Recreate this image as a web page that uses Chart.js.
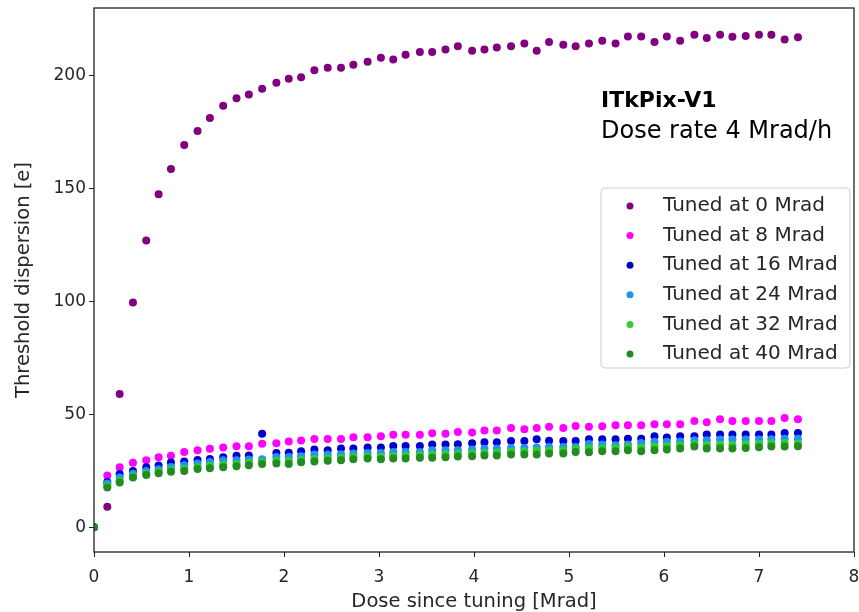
<!DOCTYPE html>
<html>
<head>
<meta charset="utf-8">
<script src="https://cdn.jsdelivr.net/npm/chart.js@4.4.1/dist/chart.umd.min.js"></script>
<style>
  html, body { margin: 0; padding: 0; background: #fff; }
  #wrap { width: 859px; height: 612px; }
</style>
</head>
<body>
<div id="wrap"><canvas id="chart" width="859" height="612"></canvas></div>
<script>
// dose since tuning [Mrad], shared by all series
const dose = [0, 0.14, 0.27, 0.41, 0.55, 0.68, 0.81, 0.95, 1.09, 1.22, 1.36, 1.50, 1.63, 1.77, 1.92,
  2.05, 2.18, 2.32, 2.46, 2.60, 2.73, 2.88, 3.02, 3.15, 3.28, 3.43, 3.56, 3.70, 3.83, 3.98, 4.11,
  4.24, 4.39, 4.53, 4.66, 4.79, 4.94, 5.07, 5.21, 5.35, 5.49, 5.62, 5.76, 5.90, 6.03, 6.17, 6.32,
  6.45, 6.59, 6.72, 6.86, 7.00, 7.13, 7.27, 7.41];

const tuned0 = [0, 9, 59, 99.5, 127, 147.5, 158.7, 169.3, 175.5, 181.3, 186.7, 190, 191.7, 194.2, 196.9,
  198.7, 199.3, 202.4, 203.5, 203.5, 204.9, 206.2, 208, 207.2, 209.3, 210.5, 210.5, 211.6, 213.1, 211.1, 211.6,
  212.5, 213.1, 214.3, 211.1, 214.9, 213.7, 213.1, 214.3, 215.5, 214.3, 217.4, 217.4, 214.9, 217.4, 215.5, 218.1,
  216.7, 218.1, 217.3, 217.6, 218.1, 218.1, 216, 217];
const tuned8 = [0, 22.9, 26.5, 28.5, 29.6, 31, 31.6, 33.3, 34.1, 34.7, 35.3, 35.8, 35.8, 37, 37.2,
  37.9, 38.4, 39.1, 39.1, 39.1, 39.8, 39.8, 40.3, 40.9, 40.9, 40.9, 41.6, 41.4, 42.2, 41.9, 42.8,
  42.8, 43.9, 43.4, 43.9, 44.5, 43.9, 44.8, 44.5, 44.7, 45.1, 45.1, 45.1, 45.6, 45.6, 45.6, 47,
  46.5, 47.8, 47, 47, 47, 47, 48.4, 47.8];
const tuned16 = [0, 20, 23.5, 24.9, 26.5, 27.3, 28.6, 29.1, 29.8, 30.2, 31, 31.6, 31.7, 41.4, 32.9,
  33, 33.6, 34.4, 34.1, 34.8, 34.8, 35.3, 35.3, 36, 36, 36, 36.6, 36.6, 36.7, 37.2, 37.6,
  37.6, 38.2, 38.2, 38.9, 38.3, 38.2, 38.2, 38.9, 38.9, 38.9, 39.2, 39.2, 40.3, 39.7, 40.3, 40.3,
  41, 41, 41, 41, 41, 41, 41.7, 41.7];
const tuned24 = [0, 19.3, 22, 23.7, 24.9, 25.7, 26.7, 27.4, 28.2, 28.9, 29.6, 29.6, 30, 30.1, 31.1,
  31.1, 31.4, 32.2, 32.2, 32.3, 32.6, 32.9, 32.9, 33.3, 33.3, 33.3, 34.1, 34.1, 34.1, 34.4, 34.7,
  34.7, 35.1, 35.1, 35.3, 35.5, 35.5, 35.5, 36.8, 36.6, 36.3, 36.6, 37.3, 37.8, 37.8, 38, 38.5,
  38.5, 38.8, 38.8, 38.8, 38.8, 38.9, 39.2, 39.2];
const tuned32 = [0, 18.3, 20.6, 22.6, 23.8, 24.6, 25.4, 25.9, 26.7, 27.2, 27.6, 28, 28.5, 29, 29.4,
  29.3, 29.9, 30.3, 30.6, 30.8, 31.2, 31.4, 31.3, 31.6, 31.7, 32, 32.2, 32.3, 32.5, 32.8, 33,
  33.1, 33.5, 33.6, 34, 34, 34.1, 34.6, 35, 35, 35.1, 35.6, 35.3, 35.7, 36, 36.3, 36.9,
  36.4, 36.5, 36.5, 36.8, 37, 37.2, 37.3, 37];
const tuned40 = [0, 17.6, 19.8, 22, 23.1, 23.9, 24.6, 24.9, 25.8, 26.1, 26.5, 27, 27.4, 28, 28.2,
  28, 28.8, 29.1, 29.4, 29.6, 30.1, 30.4, 30.1, 30.4, 30.4, 30.7, 30.8, 31, 31.3, 31.4, 31.7,
  31.7, 32.2, 32.2, 32.2, 32.6, 32.6, 33.3, 33.2, 33.6, 33.6, 34.1, 33.6, 34.1, 34.4, 34.8, 35.7,
  34.8, 34.8, 34.8, 35.1, 35.4, 35.7, 35.7, 35.8];

const seriesValues = [tuned0, tuned8, tuned16, tuned24, tuned32, tuned40];
const seriesLabels = ['Tuned at 0 Mrad', 'Tuned at 8 Mrad', 'Tuned at 16 Mrad',
  'Tuned at 24 Mrad', 'Tuned at 32 Mrad', 'Tuned at 40 Mrad'];
const seriesColors = ['#800080', '#ff00ff', '#0000cd', '#1e90ff', '#32cd32', '#228b22'];

const xTicks = [0, 1, 2, 3, 4, 5, 6, 7, 8];
const yTicks = [0, 50, 100, 150, 200];

const FONT = "'DejaVu Sans', sans-serif";
const TEXT = '#262626';

function points(values) {
  return values.map((v, i) => ({ x: dose[i], y: v }));
}

// matplotlib style box round the plot
const frame = {
  id: 'frame',
  afterDatasetsDraw(chart) {
    const { ctx, chartArea: a } = chart;
    ctx.save();
    ctx.strokeStyle = '#222';
    ctx.lineWidth = 1.3;
    ctx.strokeRect(a.left, a.top, a.right - a.left, a.bottom - a.top);
    ctx.restore();
  }
};

// legend and note drawn inside the axes
const insideText = {
  id: 'insideText',
  afterDraw(chart) {
    const { ctx, chartArea: a } = chart;
    const w = 249, h = 180;
    const left = a.right - 253, top = a.top + 180;
    ctx.save();
    ctx.beginPath();
    ctx.roundRect(left, top, w, h, 4);
    ctx.fillStyle = 'rgba(255,255,255,0.8)';
    ctx.fill();
    ctx.strokeStyle = '#cccccc';
    ctx.lineWidth = 1;
    ctx.stroke();
    ctx.font = '20px ' + FONT;
    ctx.textBaseline = 'middle';
    chart.data.datasets.forEach((ds, i) => {
      const y = top + 18 + i * 29.6;
      ctx.beginPath();
      ctx.arc(left + 29, y, 3.5, 0, Math.PI * 2);
      ctx.fillStyle = ds.backgroundColor;
      ctx.fill();
      ctx.fillStyle = TEXT;
      ctx.fillText(ds.label, left + 62, y);
    });

    ctx.fillStyle = '#000';
    ctx.font = 'bold 22px ' + FONT;
    ctx.fillText('ITkPix-V1', left, a.top + 93);
    ctx.font = '24px ' + FONT;
    ctx.fillText('Dose rate 4 Mrad/h', left, a.top + 124);
    ctx.restore();
  }
};

const datasets = seriesValues.map((vals, i) => ({
  label: seriesLabels[i],
  data: points(vals),
  backgroundColor: seriesColors[i],
  borderColor: seriesColors[i],
  borderWidth: 0,
  pointRadius: 4,
  pointHoverRadius: 4,
  showLine: false,
  order: seriesValues.length - 1 - i
}));

const tickFont = { family: FONT, size: 17 };
const titleFont = { family: FONT, size: 19.5 };

new Chart(document.getElementById('chart'), {
  type: 'scatter',
  data: { datasets: datasets },
  options: {
    responsive: false,
    animation: false,
    layout: { padding: { top: 8, right: 5, left: 0, bottom: 0 } },
    plugins: {
      legend: { display: false },
      tooltip: { enabled: false }
    },
    scales: {
      x: {
        type: 'linear',
        min: 0,
        max: 8,
        afterBuildTicks: axis => { axis.ticks = xTicks.map(v => ({ value: v })); },
        afterFit: scale => { scale.height = 60; scale.paddingLeft = 0; scale.paddingRight = 0; },
        border: { display: false },
        grid: { drawOnChartArea: false, drawTicks: true, tickLength: 5, color: '#222' },
        ticks: { font: tickFont, color: TEXT, padding: 10, maxRotation: 0 },
        title: { display: true, text: 'Dose since tuning [Mrad]', font: titleFont, color: TEXT,
          padding: { top: 0, bottom: -2 } }
      },
      y: {
        type: 'linear',
        min: -11,
        max: 230,
        afterBuildTicks: axis => { axis.ticks = yTicks.map(v => ({ value: v })); },
        afterFit: scale => { scale.width = 94; scale.paddingTop = 0; scale.paddingBottom = 0; },
        border: { display: false },
        grid: { drawOnChartArea: false, drawTicks: true, tickLength: 5, color: '#222' },
        ticks: { font: tickFont, color: TEXT, padding: 3 },
        title: { display: true, text: 'Threshold dispersion [e]', font: titleFont, color: TEXT,
          padding: { top: 12, bottom: 0 } }
      }
    }
  },
  plugins: [frame, insideText]
});
</script>
</body>
</html>
